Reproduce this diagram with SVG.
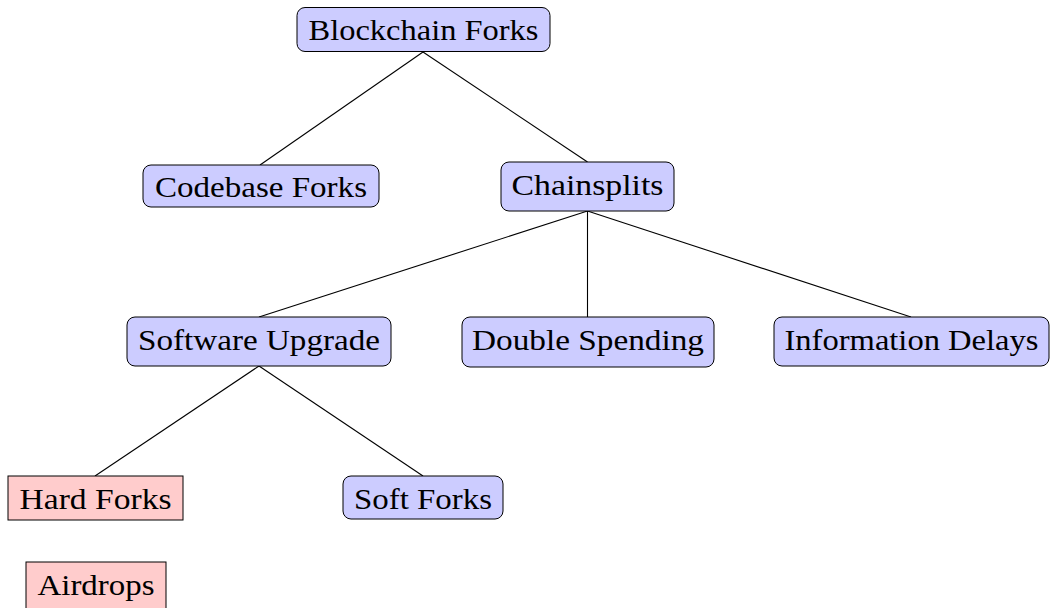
<svg xmlns="http://www.w3.org/2000/svg" width="1051" height="608" viewBox="0 0 1051 608">
  <style>
    .blue { fill: #ccccff; stroke: #000; stroke-width: 1; }
    .red { fill: #ffcccc; stroke: #000; stroke-width: 1; }
    .lbl { font-family: "Liberation Serif", "DejaVu Serif", serif; font-size: 30px; fill: #000; text-anchor: middle; }
    .edge { stroke: #000; stroke-width: 1.1; fill: none; }
  </style>
  <rect width="1051" height="608" fill="#fff"/>
  <g id="connectors">
    <line class="edge" x1="423" y1="52" x2="260" y2="165"/>
    <line class="edge" x1="423" y1="52" x2="587.5" y2="162"/>
    <line class="edge" x1="587.5" y1="211" x2="259" y2="317"/>
    <line class="edge" x1="587.5" y1="211" x2="587.5" y2="317"/>
    <line class="edge" x1="587.5" y1="211" x2="911" y2="317"/>
    <line class="edge" x1="259" y1="366" x2="95" y2="476"/>
    <line class="edge" x1="259" y1="366" x2="423" y2="476"/>
  </g>
  <g id="blockchain-forks">
    <rect class="blue" x="297" y="7.5" width="253" height="44" rx="8"/>
    <text class="lbl" x="423.5" y="40" textLength="230" lengthAdjust="spacingAndGlyphs">Blockchain Forks</text>
  </g>
  <g id="codebase-forks">
    <rect class="blue" x="143" y="165" width="236" height="42" rx="8"/>
    <text class="lbl" x="261" y="197" textLength="212" lengthAdjust="spacingAndGlyphs">Codebase Forks</text>
  </g>
  <g id="chainsplits">
    <rect class="blue" x="501" y="162" width="173" height="49" rx="8"/>
    <text class="lbl" x="587.5" y="195" textLength="152" lengthAdjust="spacingAndGlyphs">Chainsplits</text>
  </g>
  <g id="software-upgrade">
    <rect class="blue" x="127" y="317" width="264" height="49" rx="8"/>
    <text class="lbl" x="259" y="350" textLength="242" lengthAdjust="spacingAndGlyphs">Software Upgrade</text>
  </g>
  <g id="double-spending">
    <rect class="blue" x="462" y="317" width="252" height="50" rx="8"/>
    <text class="lbl" x="588" y="350" textLength="232" lengthAdjust="spacingAndGlyphs">Double Spending</text>
  </g>
  <g id="information-delays">
    <rect class="blue" x="774" y="317" width="275" height="49" rx="8"/>
    <text class="lbl" x="911.5" y="350" textLength="254" lengthAdjust="spacingAndGlyphs">Information Delays</text>
  </g>
  <g id="hard-forks">
    <rect class="red" x="8" y="476" width="175" height="44"/>
    <text class="lbl" x="95.5" y="509" textLength="152" lengthAdjust="spacingAndGlyphs">Hard Forks</text>
  </g>
  <g id="soft-forks">
    <rect class="blue" x="343" y="476" width="160" height="43" rx="8"/>
    <text class="lbl" x="423" y="509" textLength="138" lengthAdjust="spacingAndGlyphs">Soft Forks</text>
  </g>
  <g id="airdrops">
    <rect class="red" x="26" y="562" width="140" height="50"/>
    <text class="lbl" x="96" y="595" textLength="117" lengthAdjust="spacingAndGlyphs">Airdrops</text>
  </g>
</svg>
